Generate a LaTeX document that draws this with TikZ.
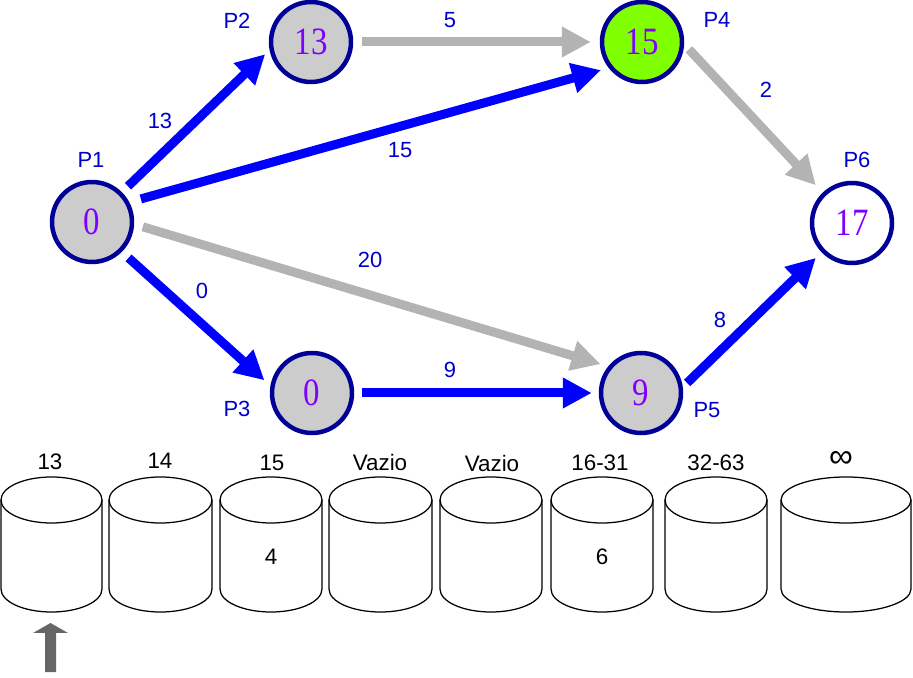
\documentclass[tikz,border=0pt]{standalone}
\usepackage{fontspec}
\setmainfont{Liberation Sans}
\newfontfamily\numfont[FakeStretch=0.85]{Liberation Serif}
\usetikzlibrary{arrows.meta}
\definecolor{ring}{RGB}{0,0,153}
\definecolor{fillgray}{RGB}{204,204,204}
\definecolor{nodegreen}{RGB}{128,255,0}
\definecolor{numpurple}{RGB}{128,0,255}
\definecolor{labelblue}{RGB}{0,0,204}
\definecolor{edgeblue}{RGB}{0,0,255}
\definecolor{edgegray}{RGB}{179,179,179}
\definecolor{pointer}{RGB}{102,102,102}

% one storage drum: left x, right x
\newcommand{\drum}[2]{%
  \pgfmathsetmacro\drumcx{(#1+#2)/2}%
  \pgfmathsetmacro\drumrx{(#2-#1)/2}%
  \draw[bucket] (\drumcx,500) ellipse [x radius=\drumrx, y radius=23];
  \draw[bucket] (#1,500) -- (#1,589)
     arc[start angle=180, end angle=0, x radius=\drumrx, y radius=23] -- (#2,500);
}

\begin{document}
\begin{tikzpicture}[x=0.02cm, y=-0.02cm,
  proc/.style={circle, draw=ring, line width=0.09cm, fill=fillgray,
    minimum size=1.6cm, inner sep=0pt,
    font=\numfont\fontsize{22pt}{26pt}\selectfont, text=numpurple},
  plabel/.style={font=\fontsize{12.5pt}{14pt}\selectfont, text=labelblue, inner sep=0pt},
  wlabel/.style={plabel},
  hot/.style={color=edgeblue, line width=0.18cm,
    -{Triangle[length=0.58cm, width=0.58cm]}},
  cold/.style={color=edgegray, line width=0.18cm,
    -{Triangle[length=0.58cm, width=0.58cm]}},
  bucket/.style={draw=black, line width=0.025cm},
  btext/.style={font=\fontsize{12.75pt}{14pt}\selectfont, inner sep=0pt}
]
\useasboundingbox (0,0) rectangle (913,678);

% process nodes
\node[proc] (p1) at (92,222) {0};
\node[proc] (p2) at (311,42) {13};
\node[proc, fill=nodegreen] (p4) at (642,42) {15};
\node[proc, fill=white] (p6) at (852,223) {17};
\node[proc] (p3) at (312,393) {0};
\node[proc] (p5) at (641,393) {9};

% node names
\node[plabel] (n1) at (91,160) {P1};
\node[plabel] (n2) at (237,21) {P2};
\node[plabel] (n4) at (717,20) {P4};
\node[plabel] (n6) at (857,160) {P6};
\node[plabel] (n3) at (237,409) {P3};
\node[plabel] (n5) at (707,410) {P5};

% connectors
\draw[hot, shorten <=0.17cm, shorten >=0.12cm] (p1.45) -- (p2.191);
\draw[hot, shorten <=0.24cm, shorten >=0.16cm] (p1.28) -- (p4.218);
\draw[hot, shorten <=0.18cm, shorten >=0.16cm] (p1.315) -- (p3.170);
\draw[cold, shorten <=0.18cm, shorten >=0.16cm] (p1.357) -- (p5.141);
\draw[cold, shorten <=0.18cm, shorten >=0.18cm] (p2.0) -- (p4.180);
\draw[cold, shorten <=0.14cm, shorten >=0.20cm] (p4.357) -- (p6.134);
\draw[hot, shorten <=0.16cm, shorten >=0.14cm] (p3.0) -- (p5.180);
\draw[hot, shorten <=0.12cm, shorten >=0.16cm] (p5.8) -- (p6.224);

% weights
\node[wlabel] (w12) at (160,121) {13};
\node[wlabel] (w14) at (400,150) {15};
\node[wlabel] (w13) at (202,291) {0};
\node[wlabel] (w15) at (370,260) {20};
\node[wlabel] (w24) at (450,20) {5};
\node[wlabel] (w46) at (766,90) {2};
\node[wlabel] (w35) at (450,370) {9};
\node[wlabel] (w56) at (720,320) {8};

% buckets
\drum{1}{102}
\drum{109}{212}
\drum{220}{322}
\drum{329}{432}
\drum{440}{542}
\drum{551}{653}
\drum{665}{767}
\drum{781}{911}

\node[btext] (b1) at (50,462) {13};
\node[btext] (b2) at (160,461) {14};
\node[btext] (b3) at (272,463) {15};
\node[btext] (b4) at (380,462) {Vazio};
\node[btext] (b5) at (492,463) {Vazio};
\node[btext] (b6) at (600,463) {16-31};
\node[btext] (b7) at (716,463) {32-63};
\node[btext, font=\fontsize{19pt}{20pt}\selectfont] (b8) at (841,459) {∞};
\node[btext] (c3) at (271,557) {4};
\node[btext] (c6) at (602,557) {6};

% current bucket pointer
\fill[pointer] (45,672) -- (45,633) -- (33,633) -- (50.5,623) -- (68,633)
  -- (56,633) -- (56,672) -- cycle;
\end{tikzpicture}
\end{document}
